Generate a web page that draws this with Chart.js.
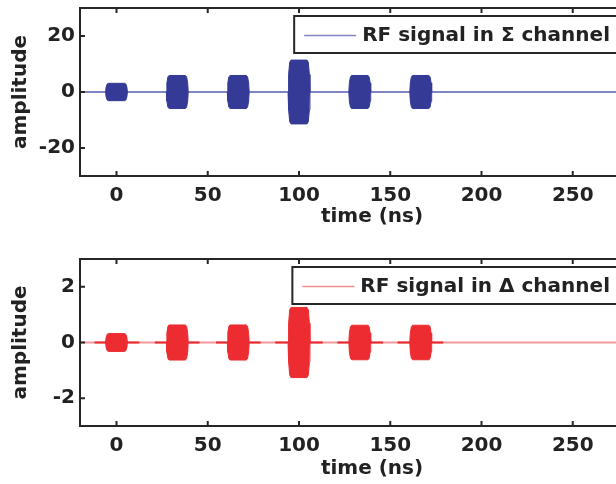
<!DOCTYPE html>
<html>
<head>
<meta charset="utf-8">
<script src="https://cdn.jsdelivr.net/npm/chart.js@4.4.0/dist/chart.umd.min.js"></script>
<style>
    body { margin: 0; background: #fff; }
    #frame { width: 616px; height: 484px; overflow: hidden; position: relative; }
    .panel { position: absolute; left: 0; width: 680px; height: 242px; }
</style>
</head>
<body>
<div id="frame">
    <div class="panel" style="top: 0;"><canvas id="sigmaChart"></canvas></div>
    <div class="panel" style="top: 242px;"><canvas id="deltaChart"></canvas></div>
</div>
<script>
// --- Data ---
const timeRange = [-20, 300];
const timeTicks = [0, 50, 100, 150, 200, 250, 300];
const sigmaRange = [-30, 30];
const sigmaTicks = [-20, 0, 20];
const deltaRange = [-3, 3];
const deltaTicks = [-2, 0, 2];

// burst centres (ns) and peak amplitude of each RF burst
const burstCenters = [0, 33.3, 66.7, 100, 133.3, 166.7];
const sigmaPeaks = [3.1, 5.9, 5.9, 11.4, 5.9, 5.9];
const deltaPeaks = [0.32, 0.63, 0.63, 1.26, 0.62, 0.62];

// envelope of one burst: time offset from centre (ns) and fraction of peak
const envelopeOffsets = [-6, -5.7, -5.1, -4.4, 4.4, 5.1, 5.7, 6];
const envelopeShape = [0, 0.55, 0.93, 1, 1, 0.93, 0.55, 0];

// stretches of the delta channel where the residual signal is stronger (ns)
const deltaCoreSegments = [[-12, 12.5], [21, 45.5], [54.5, 79], [87, 113], [121, 146], [154, 179]];

const FONT = { family: '"DejaVu Sans"', size: 20, weight: 'bold' };
const INK = '#222222';
const AXIS = '#262626';

// --- Helpers ---
function envelope(peaks, sign) {
    const pts = [];
    burstCenters.forEach((c, i) => {
        envelopeOffsets.forEach((o, k) => {
            pts.push({ x: c + o, y: sign * peaks[i] * envelopeShape[k] });
        });
        pts.push({ x: c + 8, y: null });
    });
    return pts;
}

function segmentsToPoints(segs) {
    const pts = [];
    segs.forEach(([a, b]) => {
        pts.push({ x: a, y: 0 }, { x: b, y: 0 }, { x: b + 0.5, y: null });
    });
    return pts;
}

// frame, inward ticks and the in-axes legend (MATLAB look)
const framePlugin = {
    id: 'frame',
    afterDatasetsDraw(chart, args, opts) {
        const { ctx, chartArea: a, scales: { x, y } } = chart;
        ctx.save();
        ctx.strokeStyle = AXIS;
        ctx.lineWidth = 2;
        ctx.strokeRect(a.left, a.top, a.right - a.left, a.bottom - a.top);
        ctx.beginPath();
        x.ticks.forEach(t => {
            const px = x.getPixelForValue(t.value);
            ctx.moveTo(px, a.bottom); ctx.lineTo(px, a.bottom - 5);
            ctx.moveTo(px, a.top); ctx.lineTo(px, a.top + 5);
        });
        y.ticks.forEach(t => {
            const py = y.getPixelForValue(t.value);
            ctx.moveTo(a.left, py); ctx.lineTo(a.left + 5, py);
            ctx.moveTo(a.right, py); ctx.lineTo(a.right - 5, py);
        });
        ctx.stroke();

        // legend box
        ctx.font = `bold ${FONT.size}px ${FONT.family}`;
        const w = ctx.measureText(opts.label).width;
        const boxW = 10 + 52 + 6 + w + 12;
        const boxH = 37;
        const right = a.right - 42;
        const left = right - boxW;
        const top = a.top + 8;
        ctx.fillStyle = '#fff';
        ctx.fillRect(left, top, boxW, boxH);
        ctx.strokeRect(left, top, boxW, boxH);
        const cy = top + boxH / 2 + 1;
        ctx.beginPath();
        ctx.strokeStyle = opts.lineColor;
        ctx.lineWidth = 1.5;
        ctx.moveTo(left + 10, cy);
        ctx.lineTo(left + 62, cy);
        ctx.stroke();
        ctx.fillStyle = INK;
        ctx.textBaseline = 'middle';
        ctx.textAlign = 'left';
        ctx.fillText(opts.label, left + 68, cy);
        ctx.restore();
    }
};

function makeChart(id, cfg) {
    const ctx = document.getElementById(id).getContext('2d');
    return new Chart(ctx, {
        type: 'line',
        data: { datasets: cfg.datasets },
        options: {
            responsive: true,
            maintainAspectRatio: false,
            animation: false,
            layout: { padding: { top: cfg.padTop, right: 16, left: 0, bottom: 0 } },
            elements: { point: { radius: 0 }, line: { tension: 0 } },
            plugins: {
                legend: { display: false },
                tooltip: { enabled: false },
                frame: { label: cfg.label, lineColor: cfg.lineColor }
            },
            scales: {
                x: {
                    type: 'linear',
                    min: timeRange[0],
                    max: timeRange[1],
                    afterBuildTicks: s => { s.ticks = timeTicks.map(v => ({ value: v })); },
                    afterFit: s => { s.height = cfg.xHeight; s.paddingLeft = 0; s.paddingRight = 0; },
                    grid: { display: false, drawTicks: false },
                    border: { display: false },
                    ticks: { font: FONT, color: INK, padding: 8, maxRotation: 0, autoSkip: false },
                    title: { display: true, text: 'time (ns)', font: FONT, color: INK, padding: { top: 0, bottom: cfg.titlePad } }
                },
                y: {
                    min: cfg.yRange[0],
                    max: cfg.yRange[1],
                    afterBuildTicks: s => { s.ticks = cfg.yTicks.map(v => ({ value: v })); },
                    afterFit: s => { s.width = 80; s.paddingTop = 0; s.paddingBottom = 0; },
                    grid: { display: false, drawTicks: false },
                    border: { display: false },
                    ticks: { font: FONT, color: INK, padding: 5 },
                    title: { display: true, text: 'amplitude', font: FONT, color: INK, padding: { top: 9, bottom: 0 } }
                }
            }
        },
        plugins: [framePlugin]
    });
}

// --- Σ channel ---
makeChart('sigmaChart', {
    label: 'RF signal in Σ channel',
    lineColor: '#8186c2',
    padTop: 8,
    xHeight: 66,
    titlePad: 13,
    yRange: sigmaRange,
    yTicks: sigmaTicks,
    datasets: [{
        label: 'upper',
        data: envelope(sigmaPeaks, 1),
        borderColor: '#343a96', borderWidth: 1,
        backgroundColor: '#343a96', fill: '+1', order: 0
    }, {
        label: 'lower',
        data: envelope(sigmaPeaks, -1),
        borderColor: '#343a96', borderWidth: 1, fill: false, order: 0
    }, {
        label: 'RF signal in Σ channel',
        data: timeRange.map(t => ({ x: t, y: 0 })),
        borderColor: '#8186c2', borderWidth: 2, fill: false, order: 10
    }]
});

// --- Δ channel ---
makeChart('deltaChart', {
    label: 'RF signal in Δ channel',
    lineColor: '#f08c8e',
    padTop: 17,
    xHeight: 58,
    titlePad: 3,
    yRange: deltaRange,
    yTicks: deltaTicks,
    datasets: [{
        label: 'upper',
        data: envelope(deltaPeaks, 1),
        borderColor: '#ec2c30', borderWidth: 1,
        backgroundColor: '#ec2c30', fill: '+1', order: 0
    }, {
        label: 'lower',
        data: envelope(deltaPeaks, -1),
        borderColor: '#ec2c30', borderWidth: 1, fill: false, order: 0
    }, {
        label: 'core',
        data: segmentsToPoints(deltaCoreSegments),
        borderColor: '#e8282d', borderWidth: 2, fill: false, order: 5
    }, {
        label: 'RF signal in Δ channel',
        data: timeRange.map(t => ({ x: t, y: 0 })),
        borderColor: '#f29a9b', borderWidth: 2, fill: false, order: 10
    }]
});
</script>
</body>
</html>
